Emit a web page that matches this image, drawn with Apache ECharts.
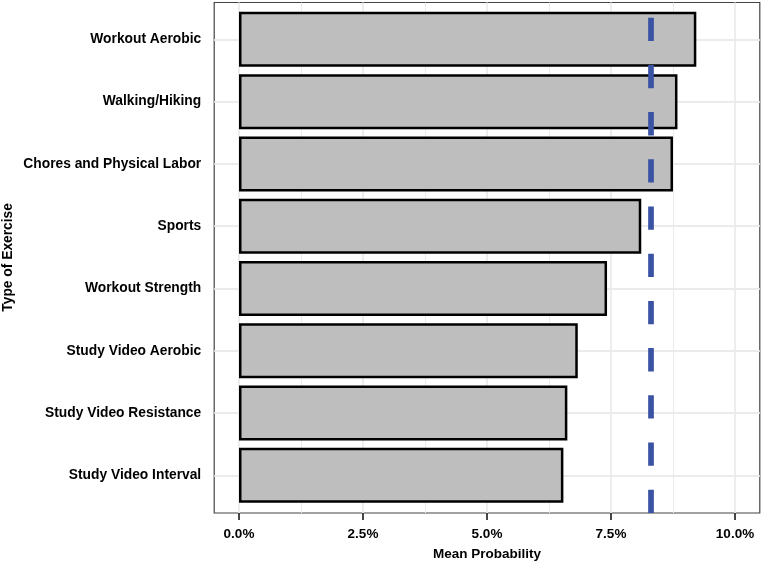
<!DOCTYPE html>
<html>
<head>
<meta charset="utf-8">
<script src="https://cdn.jsdelivr.net/npm/echarts@6/dist/echarts.min.js"></script>
<style>
html,body{margin:0;padding:0;background:#fff;}
#chart{width:762px;height:563px;}
</style>
</head>
<body>
<div id="chart"></div>
<script>
const categories = ['Workout Aerobic','Walking/Hiking','Chores and Physical Labor','Sports','Workout Strength','Study Video Aerobic','Study Video Resistance','Study Video Interval'];
const meanProbability = [9.22, 8.84, 8.75, 8.11, 7.42, 6.83, 6.62, 6.54];
const referenceLine = 8.31;
const majorTicks = [0, 2.5, 5, 7.5, 10];
const minorTicks = [1.25, 3.75, 6.25, 8.75];
const xMin = -0.5, xMax = 10.5;

const FONT = 'Liberation Sans, Arial, sans-serif';
const chart = echarts.init(document.getElementById('chart'), null, {renderer:'canvas'});

const gridLineData = majorTicks.map(v => ({xAxis: v, lineStyle:{width:1.8}}))
  .concat(minorTicks.map(v => ({xAxis: v, lineStyle:{width:1.0}})));

chart.setOption({
  animation:false,
  backgroundColor:'#fff',
  grid:[
    {left:214.2, right:2.2, top:2.5, bottom:50, show:true, borderColor:'#444', borderWidth:1.2, backgroundColor:'transparent', outerBoundsMode:'none', containLabel:false},
    {left:214.2, right:2.2, top:8.2, bottom:56.5, show:false, outerBoundsMode:'none', containLabel:false}
  ],
  xAxis:[
    {gridIndex:0, type:'value', min:xMin, max:xMax,
     axisLine:{show:false}, splitLine:{show:false},
     axisTick:{show:true, customValues:majorTicks, length:7, lineStyle:{color:'#333', width:1.8}},
     axisLabel:{customValues:majorTicks, formatter:v=>v.toFixed(1)+'%', color:'#000', fontWeight:'bold', fontSize:13.5, fontFamily:FONT, margin:14.5},
     name:'Mean Probability', nameLocation:'middle', nameGap:34, nameMoveOverlap:false,
     nameTextStyle:{color:'#000', fontWeight:'bold', fontSize:13.5, fontFamily:FONT}},
    {gridIndex:1, type:'value', min:xMin, max:xMax, show:false}
  ],
  yAxis:[
    {gridIndex:0, type:'value', min:0, max:1, show:false},
    {gridIndex:1, type:'category', data:categories, inverse:true,
     axisLine:{show:false}, splitLine:{show:false},
     axisTick:{show:true, alignWithLabel:true, length:7, lineStyle:{color:'#333', width:1.8}},
     axisLabel:{color:'#000', fontWeight:'bold', fontSize:13.8, fontFamily:FONT, margin:13},
     name:'Type of Exercise', nameLocation:'middle', nameGap:199, nameRotate:90, nameMoveOverlap:false,
     nameTextStyle:{color:'#000', fontWeight:'bold', fontSize:13.8, fontFamily:FONT}}
  ],
  series:[
    {type:'line', xAxisIndex:0, yAxisIndex:0, data:[], silent:true, z:0,
     markLine:{silent:true, symbol:['none','none'], z:0, animation:false,
       label:{show:false}, lineStyle:{color:'#EBEBEB', type:'solid'},
       data:gridLineData}},
    {type:'bar', xAxisIndex:1, yAxisIndex:1, data:meanProbability, barWidth:55, z:2,
     itemStyle:{color:'#BEBEBE', borderColor:'#000', borderWidth:2.5},
     markLine:{silent:true, symbol:['none','none'], z:1, animation:false,
       label:{show:false}, lineStyle:{color:'#EBEBEB', type:'solid', width:1.8},
       data:categories.map((c,i)=>({yAxis:i}))}},
    {type:'line', xAxisIndex:0, yAxisIndex:0, data:[], silent:true, z:5,
     markLine:{silent:true, symbol:['none','none'], z:5, animation:false,
       label:{show:false}, lineStyle:{color:'#3A53A3', width:5.7, type:[23.3,23.9], cap:'butt'},
       data:[{xAxis:referenceLine}]}}
  ]
});
</script>
</body>
</html>
